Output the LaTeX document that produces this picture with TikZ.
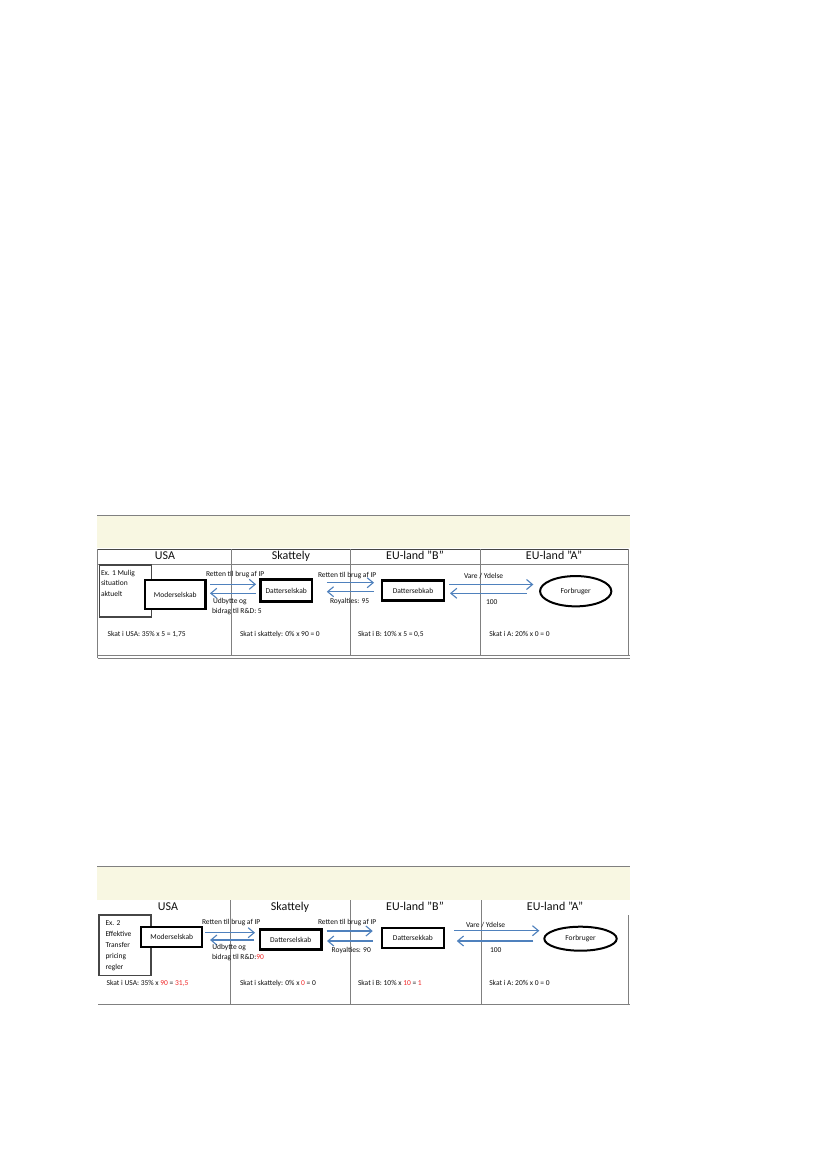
\documentclass[tikz,border=0pt]{standalone}
\usepackage{fontspec}
\setmainfont{Carlito}
\usetikzlibrary{arrows.meta,shapes.geometric}
\definecolor{bandc}{RGB}{248,247,226}
\definecolor{arrc}{RGB}{79,129,189}
\definecolor{gridc}{RGB}{128,128,128}
\definecolor{darkc}{RGB}{70,70,70}
\definecolor{txtc}{RGB}{15,15,15}
\definecolor{redc}{RGB}{240,40,40}
\begin{document}
\begin{tikzpicture}[x=1pt,y=-1pt,
  every node/.style={outer sep=0pt},
  firm/.style={draw=black, line width=2.4pt, fill=white, inner sep=0pt, text=txtc, font=\fontsize{7.5}{9}\selectfont},
  cons/.style={ellipse, draw=black, line width=2pt, fill=white, inner sep=0pt, text=txtc, font=\fontsize{7.5}{9}\selectfont},
  exbox/.style={draw=darkc, line width=1.3pt, fill=white, inner sep=0pt},
  hdr/.style={font=\fontsize{12}{14}\selectfont, text=txtc, inner sep=0pt, text height=8.5pt, text depth=2.5pt},
  lbl/.style={font=\fontsize{7.5}{9}\selectfont, text=txtc, anchor=west, inner sep=0pt, text height=5.5pt, text depth=1.5pt},
  exlbl/.style={font=\fontsize{7.5}{10.9}\selectfont, text=txtc, anchor=north west, inner sep=0pt, align=left},
  arr/.style={draw=arrc, line width=1.1pt, -{Straight Barb[length=6pt,width=10pt]}},
  gridl/.style={draw=gridc, line width=0.9pt},
  topl/.style={draw=darkc, line width=1pt}]
\useasboundingbox (0,0) rectangle (827,1169);
\fill[white] (0,0) rectangle (827,1169);

% ================= Diagram 1 =================
\fill[bandc] (97,516) rectangle (630,548);
\draw[gridl] (97,515.5) -- (630,515.5);
\draw[topl] (97.5,549) -- (628.5,549);
\draw[gridl] (97.5,564) -- (628.5,564);
\draw[gridl] (97.5,549) -- (97.5,658.3);
\draw[gridl] (231.7,549) -- (231.7,655.7);
\draw[gridl] (350,549) -- (350,655.7);
\draw[gridl] (480.7,549) -- (480.7,655.7);
\draw[gridl] (628,549) -- (628,655.7);
\draw[gridl] (97.5,655.7) -- (630,655.7);
\draw[gridl] (97.5,658.3) -- (630,658.3);

\node[hdr] (h1a) at (165,556.5) {USA};
\node[hdr] (h1b) at (291,556.5) {Skattely};
\node[hdr] (h1c) at (415,556.5) {EU-land ”B”};
\node[hdr] (h1d) at (554,556.5) {EU-land ”A”};

\node[exbox, minimum width=52, minimum height=52] (e1) at (125.7,591) {};
\node[exlbl] (e1t) at (101,569.8) {Ex. 1 Mulig\\situation\\aktuelt};

\node[firm, minimum width=60.3, minimum height=28.6] (m1) at (175.3,594.5) {Moderselskab};
\node[firm, minimum width=51.3, minimum height=22] (d1) at (286.2,590.5) {Datterselskab};
\node[firm, minimum width=62.2, minimum height=20] (b1) at (413,590.5) {Dattersebkab};
\node[cons, minimum width=71.3, minimum height=30.3] (f1) at (575.7,591.2) {Forbruger};

\draw[arr, shorten <=4.5pt, shorten >=4.5pt] (m1.east |- 0,584.3) -- (d1.west |- 0,584.3);
\draw[arr, shorten <=4.5pt, shorten >=4.5pt] (d1.west |- 0,593.3) -- (m1.east |- 0,593.3);
\draw[arr, shorten <=14.9pt, shorten >=7.9pt] (d1.east |- 0,582.7) -- (b1.west |- 0,582.7);
\draw[arr, shorten <=7.9pt, shorten >=14.9pt] (b1.west |- 0,591.7) -- (d1.east |- 0,591.7);
\draw[arr, shorten <=5.2pt, shorten >=6.7pt] (b1.east |- 0,584.5) -- (f1.west |- 0,584.5);
\draw[arr, shorten <=13.3pt, shorten >=5.9pt] (f1.west |- 0,593.3) -- (b1.east |- 0,593.3);

\node[lbl] (l1a) at (206,574) {Retten til brug af IP};
\node[lbl] (l1b) at (213,601.5) {Udbytte og};
\node[lbl] (l1c) at (212,611.5) {bidrag til R\&D: 5};
\node[lbl] (l1d) at (318,575) {Retten til brug af IP};
\node[lbl] (l1e) at (330,601.7) {Royalties: 95};
\node[lbl] (l1f) at (464,576.5) {Vare / Ydelse};
\node[lbl] (l1g) at (486,602) {100};

\node[lbl] (s1a) at (107.7,634) {Skat i USA: 35\% x 5 = 1,75};
\node[lbl] (s1b) at (240,634) {Skat i skattely: 0\% x 90 = 0};
\node[lbl] (s1c) at (358,634) {Skat i B: 10\% x 5 = 0,5};
\node[lbl] (s1d) at (489.3,634) {Skat i A: 20\% x 0 = 0};

% ================= Diagram 2 =================
\fill[bandc] (97,867) rectangle (630,899.5);
\draw[gridl] (97,866.5) -- (630,866.5);
\draw[gridl] (230.7,900) -- (230.7,1004.3);
\draw[gridl] (350.7,900) -- (350.7,1004.3);
\draw[gridl] (481.7,900) -- (481.7,1004.3);
\draw[gridl] (628,915) -- (628,1004.3);
\draw[gridl] (98,1004.3) -- (630,1004.3);

\node[hdr] (h2a) at (168,907) {USA};
\node[hdr] (h2b) at (290,907) {Skattely};
\node[hdr] (h2c) at (415,907) {EU-land ”B”};
\node[hdr] (h2d) at (555,907) {EU-land ”A”};

\node[exbox, minimum width=52.1, minimum height=60.4] (e2) at (125,945.2) {};
\node[exlbl, font=\fontsize{7.5}{10.8}\selectfont] (e2t) at (105.5,921.1) {Ex. 2\\Effektive\\Transfer\\pricing\\regler};

\node[firm, minimum width=60.9, minimum height=19.9] (m2) at (171.7,937.2) {Moderselskab};
\node[firm, minimum width=61.6, minimum height=20] (d2) at (290.7,939.5) {Datterselskab};
\node[firm, minimum width=61.9, minimum height=20.2] (b2) at (412.9,938) {Dattersekkab};
\node[cons, minimum width=72.4, minimum height=24] (f2) at (580.5,938.7) {Forbruger};

\draw[arr, shorten <=2.9pt, shorten >=4.9pt] (m2.east |- 0,932.7) -- (d2.west |- 0,932.7);
\draw[arr, shorten <=5.6pt, shorten >=7.9pt] (d2.west |- 0,940) -- (m2.east |- 0,940);
\draw[arr, shorten <=5.2pt, shorten >=9.2pt] (d2.east |- 0,931) -- (b2.west |- 0,931);
\draw[arr, shorten <=8.9pt, shorten >=5.5pt] (b2.west |- 0,941) -- (d2.east |- 0,941);
\draw[arr, shorten <=10.5pt, shorten >=5pt] (b2.east |- 0,930.7) -- (f2.west |- 0,930.7);
\draw[arr, shorten <=11pt, shorten >=12.9pt] (f2.west |- 0,941) -- (b2.east |- 0,941);

\node[lbl] (l2a) at (202,922.7) {Retten til brug af IP};
\node[lbl] (l2b) at (212.3,947.3) {Udbytte og};
\node[lbl] (l2c) at (212,957.7) {bidrag til R\&D:\textcolor{redc}{90}};
\node[lbl] (l2d) at (318,922.7) {Retten til brug af IP};
\node[lbl] (l2e) at (331.7,950.3) {Royalties: 90};
\node[lbl] (l2f) at (466,925.7) {Vare / Ydelse};
\node[lbl] (l2g) at (490,950) {100};

\node[lbl] (s2a) at (106.7,983.3) {Skat i USA: 35\% x \textcolor{redc}{90} = \textcolor{redc}{31,5}};
\node[lbl] (s2b) at (240,983.3) {Skat i skattely: 0\% x \textcolor{redc}{0} = 0};
\node[lbl] (s2c) at (358,983.3) {Skat i B: 10\% x \textcolor{redc}{10} = \textcolor{redc}{1}};
\node[lbl] (s2d) at (489.3,983.3) {Skat i A: 20\% x 0 = 0};
\end{tikzpicture}
\end{document}
